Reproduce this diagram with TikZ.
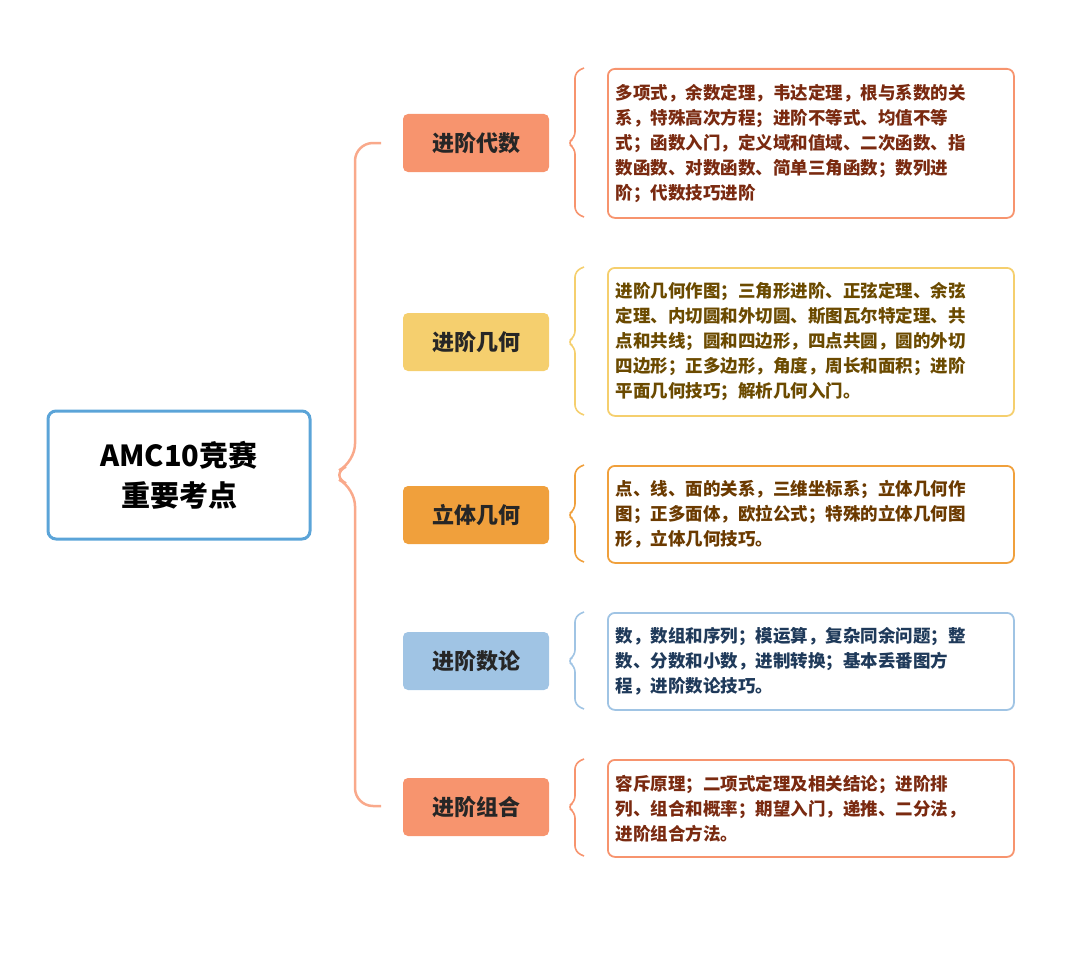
\documentclass[tikz,border=0pt]{standalone}
\usepackage{fontspec}
\setmainfont{Noto Sans CJK SC}
\newfontfamily\cjk{Noto Sans CJK SC}
\definecolor{csal}{HTML}{F7946E}
\definecolor{cyel}{HTML}{F5CF6E}
\definecolor{cora}{HTML}{F0A03C}
\definecolor{cblu}{HTML}{A0C4E4}
\definecolor{croot}{HTML}{5BA4D8}
\definecolor{tred}{HTML}{7A2A10}
\definecolor{tbrn}{HTML}{6B4A00}
\definecolor{tora}{HTML}{6B3A00}
\definecolor{tblu}{HTML}{1F3A5A}
\tikzset{
 cat/.style={fill=#1,rounded corners=5pt,minimum width=146pt,minimum height=58pt,font=\cjk\bfseries\fontsize{22}{26}\selectfont,text=black!85,inner sep=0pt},
 det/.style={draw=#1,line width=1.8pt,rounded corners=7pt,minimum width=406pt,anchor=north west,align=left,text width=390pt,inner sep=8pt,font=\cjk\bfseries\fontsize{17.5}{25}\selectfont},
 br/.style={draw=#1,line width=1.6pt,rounded corners=6pt}
}
\begin{document}
\begin{tikzpicture}[x=1pt,y=-1pt]
\useasboundingbox (0,0) rectangle (1080,958);
\node[draw=croot,line width=3pt,rounded corners=8pt,minimum width=262pt,minimum height=128pt,align=center,font=\cjk\bfseries\fontsize{29}{40}\selectfont] (root) at (179,475) {AMC10竞赛\\重要考点};
\draw[br=csal!80,line width=2.5pt,rounded corners=18pt] (381,143) -- (355,143) -- (355,462) -- (330,475) -- (355,488) -- (355,806) -- (381,806);
\node[cat=csal] (c1) at (476,143) {进阶代数};
\node[cat=cyel] (c2) at (476,342) {进阶几何};
\node[cat=cora] (c3) at (476,515) {立体几何};
\node[cat=cblu] (c4) at (476,661) {进阶数论};
\node[cat=csal] (c5) at (476,807) {进阶组合};
\node[det=csal,text=tred,minimum height=149pt] (d1) at (607,68) {多项式，余数定理，韦达定理，根与系数的关\\系，特殊高次方程；进阶不等式、均值不等\\式；函数入门，定义域和值域、二次函数、指\\数函数、对数函数、简单三角函数；数列进\\阶；代数技巧进阶};
\node[det=cyel,text=tbrn,minimum height=148pt] (d2) at (607,267) {进阶几何作图；三角形进阶、正弦定理、余弦\\定理、内切圆和外切圆、斯图瓦尔特定理、共\\点和共线；圆和四边形，四点共圆，圆的外切\\四边形；正多边形，角度，周长和面积；进阶\\平面几何技巧；解析几何入门。};
\node[det=cora,text=tora,minimum height=97pt] (d3) at (607,465) {点、线、面的关系，三维坐标系；立体几何作\\图；正多面体，欧拉公式；特殊的立体几何图\\形，立体几何技巧。};
\node[det=cblu,text=tblu,minimum height=97pt] (d4) at (607,612) {数，数组和序列；模运算，复杂同余问题；整\\数、分数和小数，进制转换；基本丢番图方\\程，进阶数论技巧。};
\node[det=csal,text=tred,minimum height=97pt] (d5) at (607,759) {容斥原理；二项式定理及相关结论；进阶排\\列、组合和概率；期望入门，递推、二分法，\\进阶组合方法。};
\foreach \t/\b/\m/\c in {68/217/143/csal,267/415/342/cyel,465/562/515/cora,612/709/661/cblu,759/856/807/csal}{
 \draw[br=\c] (584,\t) -- (575,\t+4) -- (575,\m-5) -- (567,\m) -- (575,\m+5) -- (575,\b-4) -- (584,\b);
}
\end{tikzpicture}
\end{document}
